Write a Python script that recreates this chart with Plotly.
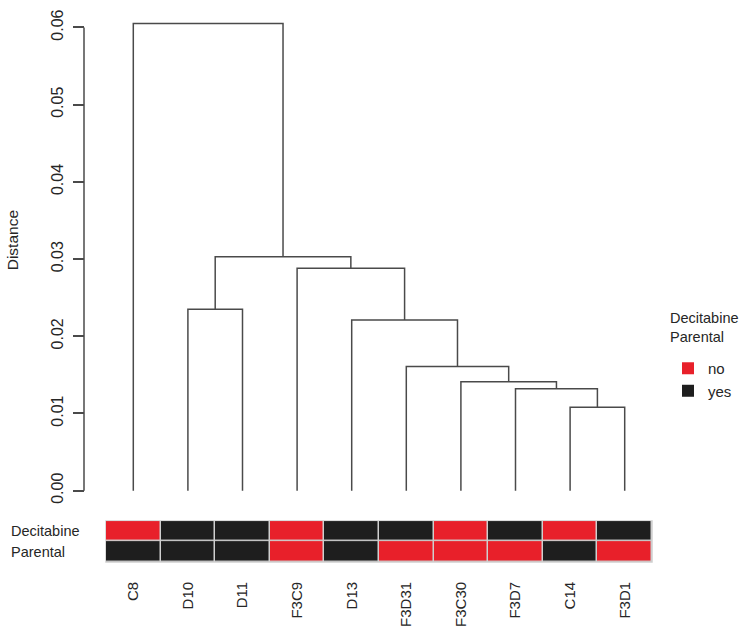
import plotly.graph_objects as go

# ---------------- data ----------------
leaves = ["C8", "D10", "D11", "F3C9", "D13", "F3D31", "F3C30", "F3D7", "C14", "F3D1"]
# merges: (left, right, height); negative int = leaf index (1-based), positive = earlier merge
merge_left = [-9, -8, -7, -6, -5, -2, -4, 6, -1]
merge_right = [-10, 1, 2, 3, 4, -3, 5, 7, 8]
merge_height = [0.0108, 0.0132, 0.0141, 0.0161, 0.0221, 0.0235, 0.0288, 0.0303, 0.0605]

decitabine = ["no", "yes", "yes", "no", "yes", "yes", "no", "yes", "no", "yes"]
parental = ["yes", "yes", "yes", "no", "yes", "no", "no", "no", "yes", "no"]
row_names = ["Decitabine", "Parental"]
legend_levels = ["no", "yes"]
legend_colors = ["#E8202A", "#1E1E1E"]

y_ticks = [0.00, 0.01, 0.02, 0.03, 0.04, 0.05, 0.06]
y_ticklabels = ["0.00", "0.01", "0.02", "0.03", "0.04", "0.05", "0.06"]

# ---------------- geometry helpers ----------------
W, H = 742, 636
def px(x):
    return x / W
def py(y):
    return 1 - y / H

FONT = "Liberation Sans, Arial, Helvetica, sans-serif"
LINE = "#4a4a4a"
TXT = "#262626"

# dendrogram segments
pos = {}
hgt = {}
def node_xy(n):
    if n < 0:
        return float(-n), 0.0
    return pos[n], hgt[n]

xs, ys = [], []
for i, (a, b, h) in enumerate(zip(merge_left, merge_right, merge_height), start=1):
    xa, ya = node_xy(a)
    xb, yb = node_xy(b)
    xs += [xa, xa, xb, xb, None]
    ys += [ya, h, h, yb, None]
    pos[i] = (xa + xb) / 2
    hgt[i] = h

fig = go.Figure()
fig.add_trace(go.Scatter(x=xs, y=ys, mode="lines", line=dict(color=LINE, width=1.5),
                         showlegend=False, hoverinfo="skip", xaxis="x", yaxis="y"))

# heatmap
cmap = {lvl: i for i, lvl in enumerate(legend_levels)}
z = [[cmap[v] for v in parental], [cmap[v] for v in decitabine]]
fig.add_trace(go.Heatmap(z=z, x=list(range(1, len(leaves) + 1)), y=[0, 1],
                         colorscale=[[0, legend_colors[0]], [0.5, legend_colors[0]],
                                     [0.5, legend_colors[1]], [1, legend_colors[1]]],
                         zmin=0, zmax=1, showscale=False, xgap=1.5, ygap=1.5,
                         hoverinfo="skip", xaxis="x2", yaxis="y2"))

# legend entries
for lvl, col in zip(legend_levels, legend_colors):
    fig.add_trace(go.Scatter(x=[None], y=[None], mode="markers", name=lvl,
                             marker=dict(symbol="square", size=13, color=col),
                             xaxis="x", yaxis="y"))

# geometry
x_dom = [px(106), px(652)]
ymin = (495.7 - 500) / 7945.0
ymax = (495.7 - 10) / 7945.0

fig.update_layout(
    width=W, height=H,
    margin=dict(l=0, r=0, t=0, b=0),
    paper_bgcolor="white", plot_bgcolor="white",
    font=dict(family=FONT, color=TXT, size=14),
    xaxis=dict(domain=x_dom, range=[0.5, len(leaves) + 0.5], visible=False, fixedrange=True),
    yaxis=dict(domain=[py(500), py(10)], range=[ymin, ymax], anchor="free", position=px(84),
               showgrid=False, zeroline=False, showline=False,
               tickmode="array", tickvals=y_ticks, ticktext=y_ticklabels,
               ticks="outside", ticklen=11, tickcolor=LINE, tickwidth=1.5,
               ticklabelstandoff=4,
               tickangle=-90, tickfont=dict(size=16, color=TXT)),
    xaxis2=dict(domain=x_dom, range=[0.5, len(leaves) + 0.5], anchor="y2",
                tickmode="array", tickvals=list(range(1, len(leaves) + 1)), ticktext=leaves,
                tickangle=-90, ticks="", showgrid=False, zeroline=False, showline=False,
                ticklabelstandoff=16, tickfont=dict(size=15, color=TXT)),
    yaxis2=dict(domain=[py(569), py(527)], range=[-0.5, 1.5], anchor="x2",
                visible=False, fixedrange=True),
    legend=dict(x=px(668), y=py(353), xanchor="left", yanchor="top",
                font=dict(size=15, color=TXT), bgcolor="rgba(0,0,0,0)",
                tracegroupgap=0, itemsizing="constant"),
)

# legend title
fig.add_annotation(text="<br>".join(row_names), xref="paper", yref="paper",
                   x=px(668), y=py(328), xanchor="left", yanchor="middle", align="left",
                   showarrow=False, font=dict(size=14.5, color=TXT))

# y-axis line from first to last tick (R style)
fig.add_shape(type="line", xref="paper", yref="y", x0=px(84), x1=px(84),
              y0=min(y_ticks), y1=max(y_ticks), line=dict(color=LINE, width=1.5))

# grey frame/gaps behind heatmap
fig.add_shape(type="rect", xref="x2 domain", yref="y2 domain", x0=0, x1=1, y0=0, y1=1,
              fillcolor="#cfcfcf", line=dict(color="#cfcfcf", width=1.5), layer="below")

# row labels
for name, yv in zip(row_names, [1, 0]):
    fig.add_annotation(text=name, xref="paper", yref="y2", x=px(9), y=yv,
                       xanchor="left", yanchor="middle", showarrow=False,
                       font=dict(size=14.5, color=TXT))

# y axis title
fig.add_annotation(text="Distance", xref="paper", yref="paper", x=px(12), y=py(238),
                   textangle=-90, showarrow=False, xanchor="center", yanchor="middle",
                   font=dict(size=15.5, color=TXT))

fig.write_html("out.html", config={"displayModeBar": False},
               post_script="document.body.style.margin='0';document.body.style.overflow='hidden';")
